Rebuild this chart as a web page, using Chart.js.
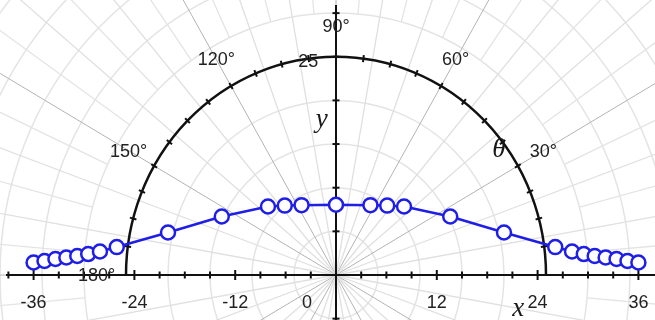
<!DOCTYPE html>
<html>
<head>
<meta charset="utf-8">
<script src="https://cdn.jsdelivr.net/npm/chart.js@4.4.1/dist/chart.umd.min.js"></script>
<style>
  body { margin: 0; background: #fff; }
  #wrap { width: 655px; height: 320px; }
</style>
</head>
<body>
<div id="wrap"><canvas id="chart"></canvas></div>
<script>
// points of the curve (x, y)
const xValues = [-36, -34.7, -33.4, -32.1, -30.8, -29.5, -28.1, -26.1, -20, -13.6, -8.1, -6.1, -4.1, 0,
                 4.1, 6.1, 8.1, 13.6, 20, 26.1, 28.1, 29.5, 30.8, 32.1, 33.4, 34.7, 36];
const yValues = [1.43, 1.6, 1.83, 2.0, 2.18, 2.4, 2.69, 3.2, 4.87, 6.7, 7.85, 7.95, 8.0, 8.05,
                 8.0, 7.95, 7.85, 6.7, 4.87, 3.2, 2.69, 2.4, 2.18, 2.0, 1.83, 1.6, 1.43];

// axis labels
const xTickValues = [-36, -24, -12, 0, 12, 24, 36];
const angleValues = [30, 60, 90, 120, 150, 180];
const angleLabels = ['30°', '60°', '90°', '120°', '150°', '180°'];
const unitRadius = 25;

const points = xValues.map((x, i) => ({ x: x, y: yValues[i] }));

// polar paper + axes drawn behind the curve
const polarPaper = {
    id: 'polarPaper',
    beforeDatasetsDraw(chart) {
        const ctx = chart.ctx;
        const sx = chart.scales.x, sy = chart.scales.y;
        const px = v => sx.getPixelForValue(v);
        const py = v => sy.getPixelForValue(v);
        const ox = px(0), oy = py(0);
        const kx = px(1) - ox, ky = oy - py(1);
        ctx.save();

        // circles
        ctx.strokeStyle = '#e4e4e4';
        ctx.lineWidth = 1.5;
        for (let r = 5; r <= 60; r += 5) {
            if (r === unitRadius) continue;
            ctx.beginPath();
            ctx.ellipse(ox, oy, r * kx, r * ky, 0, 0, Math.PI * 2);
            ctx.stroke();
        }
        // radial lines
        for (let a = 0; a < 360; a += 5) {
            let r0 = 0;
            if (a % 30 === 0) { ctx.strokeStyle = '#b4b4b4'; ctx.lineWidth = 1; }
            else if (a % 10 === 0) { ctx.strokeStyle = '#e0e0e0'; ctx.lineWidth = 1.3; }
            else { ctx.strokeStyle = '#e4e4e4'; ctx.lineWidth = 1.3; r0 = 30; }
            const c = Math.cos(a * Math.PI / 180), s = Math.sin(a * Math.PI / 180);
            ctx.beginPath();
            ctx.moveTo(ox + r0 * c * kx, oy - r0 * s * ky);
            ctx.lineTo(ox + 80 * c * kx, oy - 80 * s * ky);
            ctx.stroke();
        }

        // axes
        ctx.strokeStyle = '#111';
        ctx.lineWidth = 2;
        ctx.beginPath();
        ctx.moveTo(6, oy); ctx.lineTo(chart.width, oy);
        ctx.moveTo(ox, 5); ctx.lineTo(ox, chart.height);
        ctx.stroke();
        for (let v = -39; v <= 36; v += 3) {
            const len = v % 12 === 0 ? 5 : 3.5;
            ctx.beginPath();
            ctx.moveTo(px(v), oy - len); ctx.lineTo(px(v), oy + len);
            ctx.stroke();
        }
        for (let v = -5; v <= 30; v += 5) {
            ctx.beginPath();
            ctx.moveTo(ox - 3.5, py(v)); ctx.lineTo(ox + 3.5, py(v));
            ctx.stroke();
        }

        // unit semicircle with ticks
        ctx.lineWidth = 2.5;
        ctx.beginPath();
        ctx.ellipse(ox, oy, unitRadius * kx, unitRadius * ky, 0, Math.PI, Math.PI * 2);
        ctx.stroke();
        ctx.lineWidth = 2;
        for (let a = 0; a <= 180; a += 7.5) {
            const c = Math.cos(a * Math.PI / 180), s = Math.sin(a * Math.PI / 180);
            ctx.beginPath();
            ctx.moveTo(ox + (unitRadius - 0.4) * c * kx, oy - (unitRadius - 0.4) * s * ky);
            ctx.lineTo(ox + (unitRadius + 0.4) * c * kx, oy - (unitRadius + 0.4) * s * ky);
            ctx.stroke();
        }

        // labels
        ctx.fillStyle = '#222';
        ctx.font = '18px "Liberation Sans", Arial, sans-serif';
        ctx.textAlign = 'center';
        ctx.textBaseline = 'middle';
        xTickValues.forEach(v => {
            const dx = v === 0 ? -29 : 0;
            ctx.fillText(String(v), px(v) + dx, 303);
        });
        angleValues.forEach((a, i) => {
            const r = 28.5;
            const c = Math.cos(a * Math.PI / 180), s = Math.sin(a * Math.PI / 180);
            ctx.fillText(angleLabels[i], ox + r * c * kx, oy - r * s * ky + 1);
        });
        ctx.fillText(String(unitRadius), px(-3.3), py(24.4));

        ctx.fillStyle = '#1a1a1a';
        ctx.font = 'italic 27px "Liberation Serif", "Times New Roman", serif';
        ctx.textBaseline = 'alphabetic';
        ctx.fillText('y', px(-1.7), py(16.9));
        ctx.fillText('x', px(21.7), 316);
        ctx.fillText('θ', px(19.4), py(13.5));
        ctx.restore();
    }
};

new Chart(document.getElementById('chart'), {
    type: 'scatter',
    data: {
        datasets: [{
            data: points,
            showLine: true,
            borderColor: '#1e1ee6',
            borderWidth: 2.5,
            pointRadius: 7,
            pointBorderWidth: 2.5,
            pointBackgroundColor: '#fff',
            pointBorderColor: '#1e1ee6',
            clip: false
        }]
    },
    options: {
        responsive: true,
        maintainAspectRatio: false,
        animation: false,
        layout: { padding: 0, autoPadding: false },
        plugins: { legend: { display: false }, tooltip: { enabled: false } },
        scales: {
            x: { type: 'linear', display: false, min: -40, max: 319 / 8.4 },
            y: { type: 'linear', display: false, min: -45 / 8.73, max: 275 / 8.73 }
        }
    },
    plugins: [polarPaper]
});
</script>
</body>
</html>
